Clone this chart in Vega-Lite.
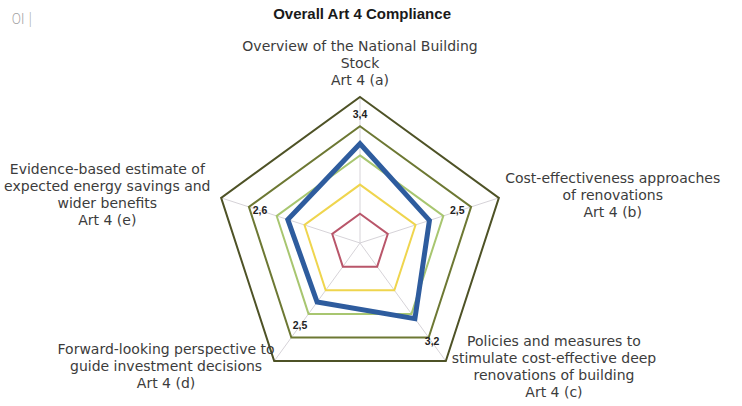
{
  "$schema": "https://vega.github.io/schema/vega-lite/v6.json",
  "width": 742,
  "height": 406,
  "autosize": {"type": "none"},
  "padding": 0,
  "background": "white",
  "config": {"view": {"stroke": null}},
  "datasets": {
    "axes": [
      {"i": 0, "code": "a", "value": 3.4, "label": "3,4", "name": "Overview of the National Building\nStock\nArt 4 (a)"},
      {"i": 1, "code": "b", "value": 2.5, "label": "2,5", "name": "Cost-effectiveness approaches\nof renovations\nArt 4 (b)"},
      {"i": 2, "code": "c", "value": 3.2, "label": "3,2", "name": "Policies and measures to\nstimulate cost-effective deep\nrenovations of building\nArt 4 (c)"},
      {"i": 3, "code": "d", "value": 2.5, "label": "2,5", "name": "Forward-looking perspective to\nguide investment decisions\nArt 4 (d)"},
      {"i": 4, "code": "e", "value": 2.6, "label": "2,6", "name": "Evidence-based estimate of\nexpected energy savings and\nwider benefits\nArt 4 (e)"}
    ],
    "rings": [
      {"ring": 1, "i": [0, 1, 2, 3, 4]},
      {"ring": 2, "i": [0, 1, 2, 3, 4]},
      {"ring": 3, "i": [0, 1, 2, 3, 4]},
      {"ring": 4, "i": [0, 1, 2, 3, 4]},
      {"ring": 5, "i": [0, 1, 2, 3, 4]}
    ],
    "heading": [{"t": "Overall Art 4 Compliance"}],
    "note": [{"t": "0I |"}]
  },
  "layer": [
    {
      "data": {"name": "axes"},
      "transform": [
        {"calculate": "0", "as": "x0"},
        {"calculate": "0", "as": "y0"},
        {"calculate": "5*sin(datum.i*2*PI/5)", "as": "x5"},
        {"calculate": "5*cos(datum.i*2*PI/5)", "as": "y5"}
      ],
      "mark": {"type": "rule", "color": "#d6d3d8", "strokeWidth": 1},
      "encoding": {
        "x": {"field": "x0", "type": "quantitative", "scale": {"domain": [-12.329, 13.082], "nice": false, "zero": false}, "axis": null},
        "y": {"field": "y0", "type": "quantitative", "scale": {"domain": [-5.582, 8.322], "nice": false, "zero": false}, "axis": null},
        "x2": {"field": "x5"},
        "y2": {"field": "y5"}
      }
    },
    {
      "data": {"name": "rings"},
      "transform": [
        {"flatten": ["i"]},
        {"calculate": "datum.ring*sin(datum.i*2*PI/5)", "as": "x"},
        {"calculate": "datum.ring*cos(datum.i*2*PI/5)", "as": "y"}
      ],
      "mark": {"type": "line", "interpolate": "linear-closed", "strokeJoin": "miter"},
      "encoding": {
        "x": {"field": "x", "type": "quantitative", "scale": {"domain": [-12.329, 13.082], "nice": false, "zero": false}, "axis": null},
        "y": {"field": "y", "type": "quantitative", "scale": {"domain": [-5.582, 8.322], "nice": false, "zero": false}, "axis": null},
        "order": {"field": "i", "type": "quantitative"},
        "color": {"field": "ring", "type": "ordinal", "scale": {"domain": [1, 2, 3, 4, 5], "range": ["#b9566a", "#efd54e", "#a8c670", "#6d7833", "#4e5226"]}, "legend": null},
        "strokeWidth": {"field": "ring", "type": "ordinal", "scale": {"domain": [1, 2, 3, 4, 5], "range": [2, 2, 1.6, 2, 2]}, "legend": null}
      }
    },
    {
      "data": {"name": "axes"},
      "transform": [
        {"calculate": "datum.value*sin(datum.i*2*PI/5)", "as": "x"},
        {"calculate": "datum.value*cos(datum.i*2*PI/5)", "as": "y"}
      ],
      "mark": {"type": "line", "interpolate": "linear-closed", "color": "#2e5c9e", "strokeWidth": 5, "strokeJoin": "miter"},
      "encoding": {
        "x": {"field": "x", "type": "quantitative", "scale": {"domain": [-12.329, 13.082], "nice": false, "zero": false}, "axis": null},
        "y": {"field": "y", "type": "quantitative", "scale": {"domain": [-5.582, 8.322], "nice": false, "zero": false}, "axis": null},
        "order": {"field": "i", "type": "quantitative"}
      }
    },
    {
      "data": {"name": "axes"},
      "transform": [
        {"calculate": "(datum.value+1)*sin(datum.i*2*PI/5)", "as": "x"},
        {"calculate": "(datum.value+1)*cos(datum.i*2*PI/5)", "as": "y"}
      ],
      "mark": {"type": "text", "font": "Liberation Sans", "fontSize": 10.5, "fontWeight": "bold", "color": "#222222", "align": "center", "baseline": "middle"},
      "encoding": {
        "x": {"field": "x", "type": "quantitative", "scale": {"domain": [-12.329, 13.082], "nice": false, "zero": false}, "axis": null},
        "y": {"field": "y", "type": "quantitative", "scale": {"domain": [-5.582, 8.322], "nice": false, "zero": false}, "axis": null},
        "text": {"field": "label"}
      }
    },
    {
      "data": {"name": "axes"},
      "transform": [
        {"calculate": "datum.i*2*PI/5", "as": "a"},
        {"calculate": "length(split(datum.name, '\\n'))", "as": "n"},
        {"calculate": "sin(datum.a)*(abs(cos(datum.a))>0.5 ? 11.3 : 9.1)", "as": "x"},
        {"calculate": "cos(datum.a)*(datum.i==0 ? 6.13 : 5.25) + (datum.n-1)/2*17/29.2", "as": "y"}
      ],
      "mark": {"type": "text", "font": "DejaVu Sans", "fontSize": 14, "color": "#3c3c3c", "align": "center", "baseline": "middle", "lineBreak": "\n", "lineHeight": 17},
      "encoding": {
        "x": {"field": "x", "type": "quantitative", "scale": {"domain": [-12.329, 13.082], "nice": false, "zero": false}, "axis": null},
        "y": {"field": "y", "type": "quantitative", "scale": {"domain": [-5.582, 8.322], "nice": false, "zero": false}, "axis": null},
        "text": {"field": "name"}
      }
    },
    {
      "data": {"name": "heading"},
      "mark": {"type": "text", "font": "Liberation Sans", "fontSize": 15, "fontWeight": "bold", "color": "#1a1a1a", "align": "center", "baseline": "middle"},
      "encoding": {
        "x": {"datum": 0.07, "type": "quantitative", "scale": {"domain": [-12.329, 13.082], "nice": false, "zero": false}, "axis": null},
        "y": {"datum": 7.84, "type": "quantitative", "scale": {"domain": [-5.582, 8.322], "nice": false, "zero": false}, "axis": null},
        "text": {"field": "t"}
      }
    },
    {
      "data": {"name": "note"},
      "mark": {"type": "text", "font": "Lato", "fontWeight": 300, "fontSize": 15, "color": "#a0a0a0", "align": "left", "baseline": "middle"},
      "encoding": {
        "x": {"datum": -11.92, "type": "quantitative", "scale": {"domain": [-12.329, 13.082], "nice": false, "zero": false}, "axis": null},
        "y": {"datum": 7.67, "type": "quantitative", "scale": {"domain": [-5.582, 8.322], "nice": false, "zero": false}, "axis": null},
        "text": {"field": "t"}
      }
    }
  ]
}
